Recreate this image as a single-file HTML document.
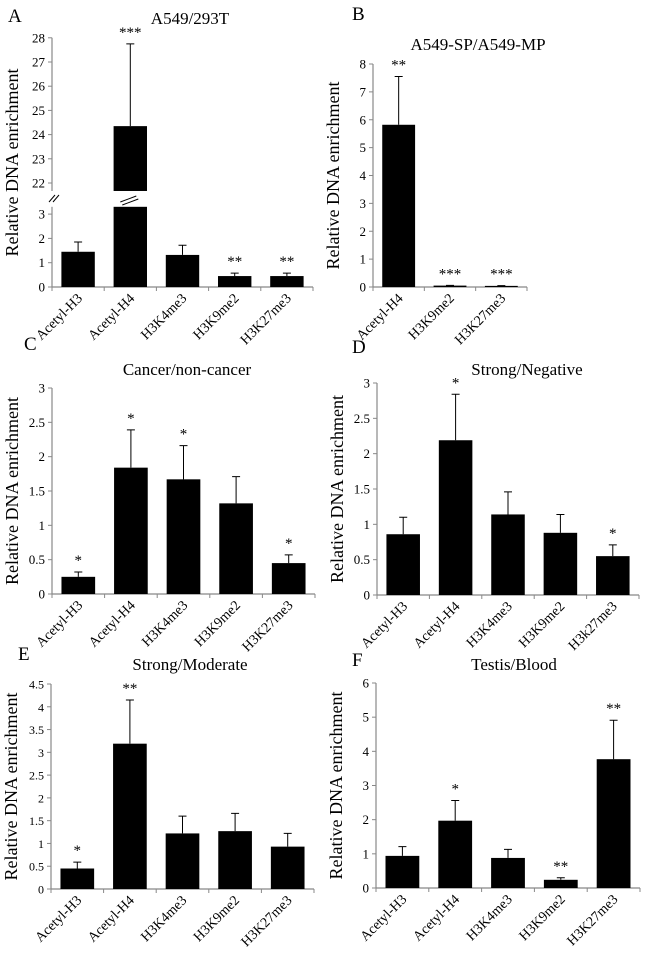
<!DOCTYPE html>
<html><head><meta charset="utf-8"><style>
html,body{margin:0;padding:0;background:#fff;width:650px;height:956px;overflow:hidden}
svg text{font-family:"Liberation Serif",serif;fill:#000}
</style></head><body>
<svg id="fig" width="650" height="956" viewBox="0 0 650 956" xmlns="http://www.w3.org/2000/svg"></svg>
<script>
// ---- data ----
const catsA = ["Acetyl-H3","Acetyl-H4","H3K4me3","H3K9me2","H3K27me3"];
const valsA = [1.45, 24.35, 1.32, 0.45, 0.45];
const errA  = [1.85, 27.75, 1.72, 0.57, 0.57];
const starsA = ["","***","","**","**"];
const ticksAlow = [0,1,2,3];
const ticksAhigh = [22,23,24,25,26,27,28];

const catsB = ["Acetyl-H4","H3K9me2","H3K27me3"];
const valsB = [5.82, 0.05, 0.04];
const errB  = [7.55, 0.06, 0.05];
const starsB = ["**","***","***"];
const ticksB = [0,1,2,3,4,5,6,7,8];

const catsC = ["Acetyl-H3","Acetyl-H4","H3K4me3","H3K9me2","H3K27me3"];
const valsC = [0.25, 1.84, 1.67, 1.32, 0.45];
const errC  = [0.32, 2.39, 2.16, 1.71, 0.57];
const starsC = ["*","*","*","","*"];
const ticksC = [0,0.5,1,1.5,2,2.5,3];

const catsD = ["Acetyl-H3","Acetyl-H4","H3K4me3","H3K9me2","H3k27me3"];
const valsD = [0.86, 2.19, 1.14, 0.88, 0.55];
const errD  = [1.10, 2.84, 1.46, 1.14, 0.71];
const starsD = ["","*","","","*"];
const ticksD = [0,0.5,1,1.5,2,2.5,3];

const catsE = ["Acetyl-H3","Acetyl-H4","H3K4me3","H3K9me2","H3K27me3"];
const valsE = [0.45, 3.19, 1.22, 1.27, 0.93];
const errE  = [0.59, 4.15, 1.60, 1.66, 1.22];
const starsE = ["*","**","","",""];
const ticksE = [0,0.5,1,1.5,2,2.5,3,3.5,4,4.5];

const catsF = ["Acetyl-H3","Acetyl-H4","H3K4me3","H3K9me2","H3K27me3"];
const valsF = [0.94, 1.97, 0.88, 0.24, 3.77];
const errF  = [1.21, 2.56, 1.13, 0.30, 4.91];
const starsF = ["","*","","**","**"];
const ticksF = [0,1,2,3,4,5,6];

const svg = document.getElementById('fig');
const NS = "http://www.w3.org/2000/svg";
function mk(tag, attrs, parent){const e=document.createElementNS(NS,tag);for(const k in attrs)e.setAttribute(k,attrs[k]);(parent||svg).appendChild(e);return e;}
function txt(s, attrs, parent){const e=mk('text',attrs,parent);e.textContent=s;return e;}

function panel(p){
  const g = mk('g',{});
  
  
  const n = p.cats.length;
  const cw = (p.x1 - p.x0)/n;
  const fmt = v => String(v);
  const lt = txt(p.letter,{x:p.lx,y:p.ly,'font-size':19},g);
  
  
  const tt = txt(p.title,{x:p.tx,y:p.ty,'font-size':17,'text-anchor':'middle'},g);
  
  
  const ymid = (p.y0 + p.ytopPix)/2;
  const yl = txt("Relative DNA enrichment",{x:0,y:0,'font-size':18,'text-anchor':'middle',transform:`translate(${p.x0-34},${ymid}) rotate(-90)`},g);
  
  
  const xa = mk('line',{x1:p.x0,y1:p.y0,x2:p.x1,y2:p.y0,stroke:'#888','stroke-width':1.2},g);
  
  
  for(let i=0;i<=n;i++){const x=p.x0+i*cw;mk('line',{x1:x,y1:p.y0,x2:x,y2:p.y0+4,stroke:'#888'},g);}
  const tfont = p.sans ? '"Liberation Sans",sans-serif' : '"Liberation Serif",serif';
  for(const seg of p.segs){
    const ya = mk('line',{x1:p.x0,y1:seg.scale(seg.lo),x2:p.x0,y2:seg.scale(seg.hi),stroke:'#888','stroke-width':1.2},g);
    
    
    for(const t of seg.ticks){
      const y=seg.scale(t);
      mk('line',{x1:p.x0-4,y1:y,x2:p.x0,y2:y,stroke:'#888'},g);
      const tl = txt(fmt(t),{x:p.x0-7,y:y+4.5,'font-size':p.sans?12:13,'text-anchor':'end','font-family':tfont,fill:p.sans?'#3a2a10':'#000'},g);
      
      
    }
  }
  const bw = cw*0.64;
  for(let i=0;i<n;i++){
    const cx = p.x0 + cw*(i+0.5);
    const v = p.vals[i], e = p.errs[i];
    const topY = p.barTop(v), eY = p.barTop(e);
    const b = mk('rect',{x:cx-bw/2,y:topY,width:bw,height:p.y0-topY,fill:'#000'},g);
    
    
    if(eY < topY){
      const el = mk('path',{d:`M${cx},${topY}V${eY}M${cx-4},${eY}H${cx+4}`,stroke:'#000','stroke-width':1,fill:'none'},g);
      
      
    }
    if(p.stars[i]){
      const s = txt(p.stars[i],{x:cx,y:eY-7,'font-size':15,'text-anchor':'middle'},g);
      
      
    }
    const cl = txt(p.cats[i],{x:0,y:0,'font-size':14,'text-anchor':'end',transform:`translate(${cx+5},${p.y0+12}) rotate(-45)`},g);
    
    
  }
  if(p.extra) p.extra(g, cw, bw);
}
function lin(y0, ytopPix, vmax){ return v => y0 - v*(y0-ytopPix)/vmax; }

const aLow = v => 287 - v*24.3;
const aHigh = v => 183 - (v-22)*24.2;
panel({name:'panel-a',letter:'A',lx:8,ly:22,title:'A549/293T',tx:190,ty:24,x0:52,x1:313,y0:287,ytopPix:38,
  cats:catsA,vals:valsA,errs:errA,stars:starsA,
  segs:[{lo:0,hi:3.3,ticks:ticksAlow,scale:aLow},{lo:21.67,hi:28,ticks:ticksAhigh,scale:aHigh}],
  barTop:v=> v>3.3 ? aHigh(v) : aLow(v),
  extra:(g,cw,bw)=>{
    const cx = 52+cw*1.5;
    const gap = mk('rect',{x:cx-bw/2-1,y:aHigh(21.67),width:bw+2,height:aLow(3.3)-aHigh(21.67),fill:'#fff'},g);
    
    
    mk('path',{d:`M${cx-10},${202}L${cx+6},${196}M${cx-8},${205}L${cx+8},${199}`,stroke:'#000','stroke-width':1},g);
    mk('path',{d:`M${49},${202}L${55},${195}M${53},${202}L${59},${195}`,stroke:'#000','stroke-width':1},g);
  }});
panel({name:'panel-b',letter:'B',lx:352,ly:20,title:'A549-SP/A549-MP',tx:478,ty:50,x0:373,x1:527,y0:287,ytopPix:64,
  cats:catsB,vals:valsB,errs:errB,stars:starsB,
  segs:[{lo:0,hi:8,ticks:ticksB,scale:lin(287,64,8)}],barTop:lin(287,64,8)});
panel({name:'panel-c',letter:'C',lx:24,ly:350,title:'Cancer/non-cancer',tx:187,ty:375,x0:52,x1:315,y0:594,ytopPix:388,
  cats:catsC,vals:valsC,errs:errC,stars:starsC,
  segs:[{lo:0,hi:3,ticks:ticksC,scale:lin(594,388,3)}],barTop:lin(594,388,3)});
panel({name:'panel-d',letter:'D',lx:352,ly:353,title:'Strong/Negative',tx:527,ty:375,x0:377,x1:639,y0:595,ytopPix:383,
  cats:catsD,vals:valsD,errs:errD,stars:starsD,
  segs:[{lo:0,hi:3,ticks:ticksD,scale:lin(595,383,3)}],barTop:lin(595,383,3)});
panel({name:'panel-e',letter:'E',lx:18,ly:660,title:'Strong/Moderate',tx:190,ty:670,x0:51,x1:314,y0:889,ytopPix:684,sans:true,
  cats:catsE,vals:valsE,errs:errE,stars:starsE,
  segs:[{lo:0,hi:4.5,ticks:ticksE,scale:lin(889,684,4.5)}],barTop:lin(889,684,4.5)});
panel({name:'panel-f',letter:'F',lx:352,ly:666,title:'Testis/Blood',tx:514,ty:670,x0:376,x1:640,y0:888,ytopPix:683,
  cats:catsF,vals:valsF,errs:errF,stars:starsF,
  segs:[{lo:0,hi:6,ticks:ticksF,scale:lin(888,683,6)}],barTop:lin(888,683,6)});
</script>
</body></html>
